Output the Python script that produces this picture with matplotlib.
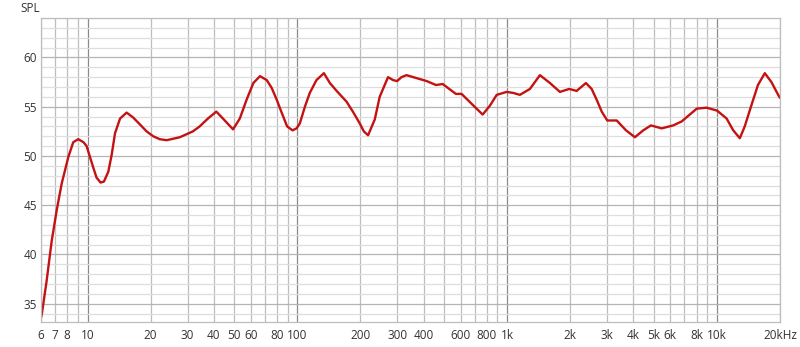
import numpy as np
import matplotlib
matplotlib.use("Agg")
from matplotlib import pyplot as plt
from matplotlib.ticker import FixedLocator, FixedFormatter

# frequency response (Hz, dB)
freq = [6.0, 6.05, 6.38, 6.75, 7.13, 7.53, 8.10, 8.55, 9.03, 9.56, 9.90,
        10.27, 10.62, 11.04, 11.54, 11.97, 12.56, 13.03, 13.52, 14.29, 15.36,
        16.5, 17.77, 19.11, 20.55, 22.1, 23.85, 27.54, 31.82, 34.25, 37.5,
        41.1, 45.1, 49.4, 53.2, 57.3, 61.7, 66.4, 71.5, 75.5, 79.8,
        84.2, 89.4, 94.9, 99.2, 102.8, 108.7, 114.7, 123.4, 133.9, 143,
        154.0, 171.8, 184, 198.5, 207.4, 217.4, 234.0, 247, 270.7, 286,
        299.0, 314, 331.5, 384.1, 413.5, 458.2, 493.1, 570.0, 606.8, 677,
        764.9, 828, 892.2, 995.6, 1068, 1151, 1285, 1434, 1601, 1786,
        1978, 2145, 2376, 2531, 2674, 2826, 3003, 3332, 3689, 4068,
        4458, 4850, 5455, 6193, 6795, 8018, 8930, 10030, 11130, 11970,
        12870, 13580, 14640, 15700, 16930, 18200, 19830, 20000]
spl = [33.6, 33.9, 37.3, 41.4, 44.5, 47.2, 49.9, 51.4, 51.7, 51.4, 51.0,
       49.9, 48.9, 47.8, 47.3, 47.4, 48.4, 50.1, 52.3, 53.8, 54.4,
       53.9, 53.2, 52.5, 52.0, 51.7, 51.6, 51.9, 52.5, 53.0, 53.8,
       54.5, 53.6, 52.7, 53.8, 55.7, 57.4, 58.1, 57.7, 56.9, 55.7,
       54.4, 53.0, 52.6, 52.8, 53.3, 55.0, 56.4, 57.7, 58.4, 57.4,
       56.6, 55.5, 54.5, 53.3, 52.5, 52.1, 53.7, 56.0, 58.0, 57.7,
       57.6, 58.0, 58.2, 57.8, 57.6, 57.2, 57.3, 56.3, 56.3, 55.3,
       54.2, 55.1, 56.2, 56.5, 56.4, 56.2, 56.8, 58.2, 57.4, 56.5,
       56.8, 56.6, 57.4, 56.8, 55.7, 54.5, 53.6, 53.6, 52.6, 51.9,
       52.6, 53.1, 52.8, 53.1, 53.5, 54.8, 54.9, 54.6, 53.8, 52.6,
       51.8, 53.0, 55.2, 57.2, 58.4, 57.5, 56.0, 55.9]

decades = [10, 100, 1000, 10000]
decade_labels = ['10', '100', '1k', '10k']
minor_freqs = [6, 7, 8, 9, 20, 30, 40, 50, 60, 70, 80, 90,
               200, 300, 400, 500, 600, 700, 800, 900,
               2000, 3000, 4000, 5000, 6000, 7000, 8000, 9000, 20000]
minor_labels = ['6', '7', '8', '', '20', '30', '40', '50', '60', '', '80', '',
                '200', '300', '400', '', '600', '', '800', '',
                '2k', '3k', '4k', '5k', '6k', '', '8k', '', '20kHz']
y_labels = [35, 40, 45, 50, 55, 60]

plt.rcParams['font.family'] = ['Open Sans', 'DejaVu Sans']

fig = plt.figure(figsize=(8, 3.47), dpi=100)
ax = fig.add_axes([41 / 800, 1 - 322 / 347, 739 / 800, 304 / 347])

ax.set_xscale('log')
ax.set_xlim(6, 20000)
ax.set_ylim(33.15, 64)

ax.xaxis.set_major_locator(FixedLocator(decades))
ax.xaxis.set_major_formatter(FixedFormatter(decade_labels))
ax.xaxis.set_minor_locator(FixedLocator(minor_freqs))
ax.xaxis.set_minor_formatter(FixedFormatter(minor_labels))

ax.yaxis.set_major_locator(FixedLocator(y_labels))
ax.yaxis.set_minor_locator(FixedLocator(np.arange(34, 65, 1)))

ax.grid(which='major', axis='x', color='#8a8a8a', lw=0.9)
ax.grid(which='minor', axis='x', color='#bdbdbd', lw=0.9)
ax.grid(which='major', axis='y', color='#b4b4b4', lw=0.9)
ax.grid(which='minor', axis='y', color='#dedede', lw=0.9)
ax.set_axisbelow(True)

ax.tick_params(which='both', length=0, labelsize=8.5, colors='#333333')
ax.tick_params(axis='x', which='both', pad=5)
ax.tick_params(axis='y', which='both', pad=3)

for s in ax.spines.values():
    s.set_color('#bdbdbd')
    s.set_linewidth(0.9)

ax.plot(freq, spl, color='#c41212', lw=1.7, solid_joinstyle='round',
        solid_capstyle='round')

fig.text(20 / 800, 1 - 8 / 347, 'SPL', fontsize=8.5, color='#333333',
         va='center', ha='left')

fig.savefig('out.png', dpi=100)
